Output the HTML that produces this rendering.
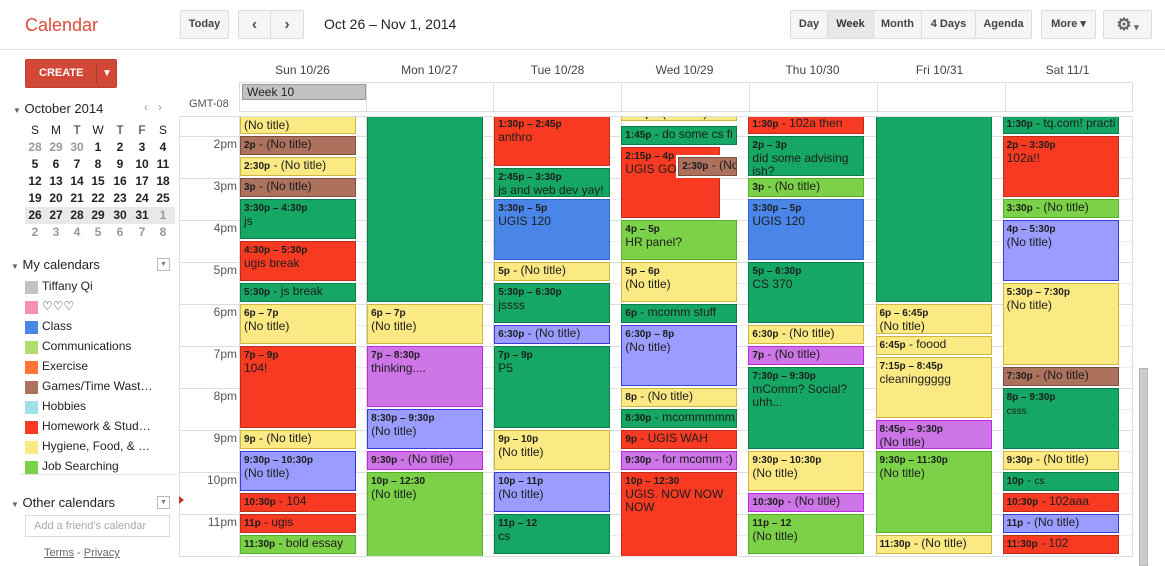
<!DOCTYPE html>
<html><head><meta charset="utf-8"><style>
*{box-sizing:border-box;margin:0;padding:0}
body{width:1165px;height:566px;overflow:hidden;background:#fff;font-family:"Liberation Sans",Arial,sans-serif;color:#222;position:relative}
.a{position:absolute}
.btn{position:absolute;top:10px;height:29px;background:#f5f5f5;border:1px solid #dcdcdc;font-size:11px;font-weight:bold;color:#444;text-align:center;line-height:27px;border-radius:2px}
.mc{position:absolute;font-size:12px;font-weight:bold;width:20px;text-align:center}
.cal{position:absolute;left:25px;font-size:12px;color:#222}
.cal i{position:absolute;left:0;top:2px;width:13px;height:13px}
.cal span{position:absolute;left:17px;top:0;white-space:nowrap}
.dh{position:absolute;top:63px;font-size:12px;color:#444;width:127px;text-align:center}
.tl{position:absolute;left:180px;width:57px;text-align:right;font-size:12px;color:#555}
#ev{position:absolute;left:180px;top:117px;width:952px;height:439px;overflow:hidden}
.e{position:absolute;left:calc(60px + var(--d)*127.1px);top:calc(19px + (var(--s) - 14)*42px);height:calc((var(--e) - var(--s))*42px - 2px);width:116px;border:1px solid;padding:1px 3px;font-size:12px;line-height:13px;color:#1d1d1d;overflow:hidden;white-space:nowrap}
.e b{font-size:10px;line-height:12px}
.y{background:#fbe983;border-color:#d0b73f}
.br{background:#ac725e;border-color:#7e4d3c}
.g{background:#16a765;border-color:#0d7d4a}
.r{background:#f83a22;border-color:#c02d1a}
.bl{background:#4986e7;border-color:#2f6ad0}
.l{background:#9a9cff;border-color:#3a3ad8}
.p{background:#cd74e6;border-color:#c028e0}
.lg{background:#7bd148;border-color:#58b02a}
.hl{position:absolute;left:0;width:952px;border-top:1px solid #ddd}
.hh{position:absolute;left:60px;width:892px;border-top:1px dotted #ddd}
.vl{position:absolute;top:0;height:439px;border-left:1px solid #ddd}
</style></head><body>
<div class="a" style="left:0;top:49px;width:1165px;border-top:1px solid #e5e5e5"></div>
<div class="a" style="left:25px;top:15px;font-size:18px;color:#dd4b39">Calendar</div>
<div class="btn" style="left:180px;width:49px">Today</div>
<div class="btn" style="left:238px;width:33px;font-size:16px;color:#555">&#8249;</div>
<div class="btn" style="left:270px;width:34px;font-size:16px;color:#555">&#8250;</div>
<div class="a" style="left:324px;top:16px;font-size:14px;color:#222">Oct 26 – Nov 1, 2014</div>
<div class="btn" style="left:790px;width:38px">Day</div>
<div class="btn" style="left:827px;width:47px;background:#e8e8e8;color:#333">Week</div>
<div class="btn" style="left:873px;width:49px">Month</div>
<div class="btn" style="left:921px;width:55px">4 Days</div>
<div class="btn" style="left:975px;width:57px">Agenda</div>
<div class="btn" style="left:1041px;width:55px">More ▾</div>
<div class="btn" style="left:1103px;width:49px;font-size:17px;color:#666">⚙<span style="font-size:9px"> ▾</span></div>

<div class="a" style="left:25px;top:59px;width:92px;height:29px;background:#d14836;border:1px solid #c13e2c;border-radius:2px;color:#fff;font-size:11px;font-weight:bold;line-height:27px"><span style="position:absolute;left:13px">CREATE</span><span style="position:absolute;left:70px;top:3px;height:21px;border-left:1px solid #b0392b"></span><span style="position:absolute;left:76px;font-size:10px">▼</span></div>

<div class="a" style="left:13px;top:101px;font-size:13px;color:#222"><span style="font-size:8px;color:#666">▼</span> October 2014</div>
<div class="a" style="left:144px;top:100px;font-size:12px;color:#999">‹ &nbsp;&nbsp;›</div>
<div class="a" style="left:25px;top:207px;width:150px;height:17px;background:#e8e8e8"></div>
<div class="mc" style="left:25px;top:123px;font-weight:normal">S</div><div class="mc" style="left:46px;top:123px;font-weight:normal">M</div><div class="mc" style="left:67px;top:123px;font-weight:normal">T</div><div class="mc" style="left:88px;top:123px;font-weight:normal">W</div><div class="mc" style="left:110px;top:123px;font-weight:normal">T</div><div class="mc" style="left:132px;top:123px;font-weight:normal">F</div><div class="mc" style="left:153px;top:123px;font-weight:normal">S</div>
<div class="mc" style="left:25px;top:140px;color:#999">28</div><div class="mc" style="left:46px;top:140px;color:#999">29</div><div class="mc" style="left:67px;top:140px;color:#999">30</div><div class="mc" style="left:88px;top:140px">1</div><div class="mc" style="left:110px;top:140px">2</div><div class="mc" style="left:132px;top:140px">3</div><div class="mc" style="left:153px;top:140px">4</div>
<div class="mc" style="left:25px;top:157px">5</div><div class="mc" style="left:46px;top:157px">6</div><div class="mc" style="left:67px;top:157px">7</div><div class="mc" style="left:88px;top:157px">8</div><div class="mc" style="left:110px;top:157px">9</div><div class="mc" style="left:132px;top:157px">10</div><div class="mc" style="left:153px;top:157px">11</div>
<div class="mc" style="left:25px;top:174px">12</div><div class="mc" style="left:46px;top:174px">13</div><div class="mc" style="left:67px;top:174px">14</div><div class="mc" style="left:88px;top:174px">15</div><div class="mc" style="left:110px;top:174px">16</div><div class="mc" style="left:132px;top:174px">17</div><div class="mc" style="left:153px;top:174px">18</div>
<div class="mc" style="left:25px;top:191px">19</div><div class="mc" style="left:46px;top:191px">20</div><div class="mc" style="left:67px;top:191px">21</div><div class="mc" style="left:88px;top:191px">22</div><div class="mc" style="left:110px;top:191px">23</div><div class="mc" style="left:132px;top:191px">24</div><div class="mc" style="left:153px;top:191px">25</div>
<div class="mc" style="left:25px;top:208px">26</div><div class="mc" style="left:46px;top:208px">27</div><div class="mc" style="left:67px;top:208px">28</div><div class="mc" style="left:88px;top:208px">29</div><div class="mc" style="left:110px;top:208px">30</div><div class="mc" style="left:132px;top:208px">31</div><div class="mc" style="left:153px;top:208px;color:#999">1</div>
<div class="mc" style="left:25px;top:225px;color:#999">2</div><div class="mc" style="left:46px;top:225px;color:#999">3</div><div class="mc" style="left:67px;top:225px;color:#999">4</div><div class="mc" style="left:88px;top:225px;color:#999">5</div><div class="mc" style="left:110px;top:225px;color:#999">6</div><div class="mc" style="left:132px;top:225px;color:#999">7</div><div class="mc" style="left:153px;top:225px;color:#999">8</div>

<div class="a" style="left:11px;top:257px;font-size:13px"><span style="font-size:8px;color:#666">▼</span> My calendars</div>
<div class="a" style="left:157px;top:258px;width:13px;height:13px;border:1px solid #bbb;font-size:7px;color:#777;text-align:center;line-height:11px">▼</div>
<div class="cal" style="top:279px"><i style="background:#c2c2c2"></i><span>Tiffany Qi</span></div>
<div class="cal" style="top:299px"><i style="background:#f691b2"></i><span>♡♡♡</span></div>
<div class="cal" style="top:319px"><i style="background:#4986e7"></i><span>Class</span></div>
<div class="cal" style="top:339px"><i style="background:#b3dc6c"></i><span>Communications</span></div>
<div class="cal" style="top:359px"><i style="background:#ff7537"></i><span>Exercise</span></div>
<div class="cal" style="top:379px"><i style="background:#ac725e"></i><span>Games/Time Wast…</span></div>
<div class="cal" style="top:399px"><i style="background:#9fe1e7"></i><span>Hobbies</span></div>
<div class="cal" style="top:419px"><i style="background:#f83a22"></i><span>Homework &amp; Stud…</span></div>
<div class="cal" style="top:439px"><i style="background:#fbe983"></i><span>Hygiene, Food, &amp; …</span></div>
<div class="cal" style="top:459px"><i style="background:#7bd148"></i><span>Job Searching</span></div>
<div class="a" style="left:20px;top:474px;width:155px;border-top:1px solid #e5e5e5"></div>
<div class="a" style="left:11px;top:495px;font-size:13px"><span style="font-size:8px;color:#666">▼</span> Other calendars</div>
<div class="a" style="left:157px;top:496px;width:13px;height:13px;border:1px solid #bbb;font-size:7px;color:#777;text-align:center;line-height:11px">▼</div>
<div class="a" style="left:25px;top:515px;width:145px;height:22px;border:1px solid #d9d9d9;font-size:11px;color:#aaa;padding:4px 8px;white-space:nowrap">Add a friend's calendar</div>
<div class="a" style="left:44px;top:547px;font-size:11px;color:#666"><u>Terms</u> - <u>Privacy</u></div>

<div class="dh" style="left:239px">Sun 10/26</div><div class="dh" style="left:366px">Mon 10/27</div><div class="dh" style="left:494px">Tue 10/28</div><div class="dh" style="left:621px">Wed 10/29</div><div class="dh" style="left:749px">Thu 10/30</div><div class="dh" style="left:876px">Fri 10/31</div><div class="dh" style="left:1004px">Sat 11/1</div>
<div class="a" style="left:239px;top:82px;width:894px;height:30px;border:1px solid #ddd"></div>
<div class="a" style="left:366px;top:82px;height:30px;border-left:1px solid #ddd"></div><div class="a" style="left:493px;top:82px;height:30px;border-left:1px solid #ddd"></div><div class="a" style="left:621px;top:82px;height:30px;border-left:1px solid #ddd"></div><div class="a" style="left:749px;top:82px;height:30px;border-left:1px solid #ddd"></div><div class="a" style="left:877px;top:82px;height:30px;border-left:1px solid #ddd"></div><div class="a" style="left:1005px;top:82px;height:30px;border-left:1px solid #ddd"></div>
<div class="a" style="left:242px;top:84px;width:124px;height:16px;background:#c2c2c2;border:1px solid #999;font-size:12px;padding-left:4px;line-height:14px">Week 10</div>
<div class="a" style="left:189px;top:98px;font-size:11px;color:#555">GMT-08</div>

<div class="a" style="left:179px;top:116px;width:954px;height:441px;border:1px solid #ddd"></div>
<div class="tl" style="top:137px">2pm</div><div class="tl" style="top:179px">3pm</div><div class="tl" style="top:221px">4pm</div><div class="tl" style="top:263px">5pm</div><div class="tl" style="top:305px">6pm</div><div class="tl" style="top:347px">7pm</div><div class="tl" style="top:389px">8pm</div><div class="tl" style="top:431px">9pm</div><div class="tl" style="top:473px">10pm</div><div class="tl" style="top:515px">11pm</div>
<div class="a" style="left:179px;top:496px;width:0;height:0;border-top:4px solid transparent;border-bottom:4px solid transparent;border-left:5px solid #c33"></div>

<div id="ev">
<div class="hl" style="top:19px"></div><div class="hl" style="top:61px"></div><div class="hl" style="top:103px"></div><div class="hl" style="top:145px"></div><div class="hl" style="top:187px"></div><div class="hl" style="top:229px"></div><div class="hl" style="top:271px"></div><div class="hl" style="top:313px"></div><div class="hl" style="top:355px"></div><div class="hl" style="top:397px"></div>
<div class="hh" style="top:40px"></div><div class="hh" style="top:82px"></div><div class="hh" style="top:124px"></div><div class="hh" style="top:166px"></div><div class="hh" style="top:208px"></div><div class="hh" style="top:250px"></div><div class="hh" style="top:292px"></div><div class="hh" style="top:334px"></div><div class="hh" style="top:376px"></div><div class="hh" style="top:418px"></div>
<div class="vl" style="left:59px"></div><div class="vl" style="left:186px"></div><div class="vl" style="left:313px"></div><div class="vl" style="left:441px"></div><div class="vl" style="left:568px"></div><div class="vl" style="left:696px"></div><div class="vl" style="left:823px"></div>

<div class="e y" style="--d:0;--s:13.5;--e:14;padding-top:3px">(No title)</div>
<div class="e br" style="--d:0;--s:14;--e:14.5"><b>2p</b> - (No title)</div>
<div class="e y" style="--d:0;--s:14.5;--e:15"><b>2:30p</b> - (No title)</div>
<div class="e br" style="--d:0;--s:15;--e:15.5"><b>3p</b> - (No title)</div>
<div class="e g" style="--d:0;--s:15.5;--e:16.5"><b>3:30p – 4:30p</b><br>js</div>
<div class="e r" style="--d:0;--s:16.5;--e:17.5"><b>4:30p – 5:30p</b><br>ugis break</div>
<div class="e g" style="--d:0;--s:17.5;--e:18"><b>5:30p</b> - js break</div>
<div class="e y" style="--d:0;--s:18;--e:19"><b>6p – 7p</b><br>(No title)</div>
<div class="e r" style="--d:0;--s:19;--e:21"><b>7p – 9p</b><br>104!</div>
<div class="e y" style="--d:0;--s:21;--e:21.5"><b>9p</b> - (No title)</div>
<div class="e l" style="--d:0;--s:21.5;--e:22.5"><b>9:30p – 10:30p</b><br>(No title)</div>
<div class="e r" style="--d:0;--s:22.5;--e:23"><b>10:30p</b> - 104</div>
<div class="e r" style="--d:0;--s:23;--e:23.5"><b>11p</b> - ugis</div>
<div class="e lg" style="--d:0;--s:23.5;--e:24"><b>11:30p</b> - bold essay</div>

<div class="e g" style="--d:1;--s:12;--e:18"></div>
<div class="e y" style="--d:1;--s:18;--e:19"><b>6p – 7p</b><br>(No title)</div>
<div class="e p" style="--d:1;--s:19;--e:20.5"><b>7p – 8:30p</b><br>thinking....</div>
<div class="e l" style="--d:1;--s:20.5;--e:21.5"><b>8:30p – 9:30p</b><br>(No title)</div>
<div class="e p" style="--d:1;--s:21.5;--e:22"><b>9:30p</b> - (No title)</div>
<div class="e lg" style="--d:1;--s:22;--e:24.5"><b>10p – 12:30</b><br>(No title)</div>

<div class="e r" style="--d:2;--s:13.5;--e:14.75"><b>1:30p – 2:45p</b><br>anthro</div>
<div class="e g" style="--d:2;--s:14.75;--e:15.5"><b>2:45p – 3:30p</b><br>js and web dev yay!</div>
<div class="e bl" style="--d:2;--s:15.5;--e:17"><b>3:30p – 5p</b><br>UGIS 120</div>
<div class="e y" style="--d:2;--s:17;--e:17.5"><b>5p</b> - (No title)</div>
<div class="e g" style="--d:2;--s:17.5;--e:18.5"><b>5:30p – 6:30p</b><br>jssss</div>
<div class="e l" style="--d:2;--s:18.5;--e:19"><b>6:30p</b> - (No title)</div>
<div class="e g" style="--d:2;--s:19;--e:21"><b>7p – 9p</b><br>P5</div>
<div class="e y" style="--d:2;--s:21;--e:22"><b>9p – 10p</b><br>(No title)</div>
<div class="e l" style="--d:2;--s:22;--e:23"><b>10p – 11p</b><br>(No title)</div>
<div class="e g" style="--d:2;--s:23;--e:24"><b>11p – 12</b><br>cs</div>

<div class="e y" style="--d:3;--s:13.1;--e:13.7;padding-top:8px"><b>1:15p</b> - (No title)</div>
<div class="e g" style="--d:3;--s:13.75;--e:14.25"><b>1:45p</b> - do some cs fi</div>
<div class="e r" style="--d:3;--s:14.25;--e:16;width:99px"><b>2:15p – 4p</b><br>UGIS GO</div>
<div class="e br" style="--d:3;--s:14.5;--e:15;margin-left:57px;width:59px;outline:2px solid #fff"><b>2:30p</b> - (No title)</div>
<div class="e lg" style="--d:3;--s:16;--e:17"><b>4p – 5p</b><br>HR panel?</div>
<div class="e y" style="--d:3;--s:17;--e:18"><b>5p – 6p</b><br>(No title)</div>
<div class="e g" style="--d:3;--s:18;--e:18.5"><b>6p</b> - mcomm stuff</div>
<div class="e l" style="--d:3;--s:18.5;--e:20"><b>6:30p – 8p</b><br>(No title)</div>
<div class="e y" style="--d:3;--s:20;--e:20.5"><b>8p</b> - (No title)</div>
<div class="e g" style="--d:3;--s:20.5;--e:21"><b>8:30p</b> - mcommmmm</div>
<div class="e r" style="--d:3;--s:21;--e:21.5"><b>9p</b> - UGIS WAH</div>
<div class="e p" style="--d:3;--s:21.5;--e:22"><b>9:30p</b> - for mcomm :)</div>
<div class="e r" style="--d:3;--s:22;--e:24.5;white-space:normal"><b>10p – 12:30</b><br>UGIS. NOW NOW NOW</div>

<div class="e r" style="--d:4;--s:13.5;--e:14"><b>1:30p</b> - 102a then</div>
<div class="e g" style="--d:4;--s:14;--e:15;white-space:normal"><b>2p – 3p</b><br>did some advising ish?</div>
<div class="e lg" style="--d:4;--s:15;--e:15.5"><b>3p</b> - (No title)</div>
<div class="e bl" style="--d:4;--s:15.5;--e:17"><b>3:30p – 5p</b><br>UGIS 120</div>
<div class="e g" style="--d:4;--s:17;--e:18.5"><b>5p – 6:30p</b><br>CS 370</div>
<div class="e y" style="--d:4;--s:18.5;--e:19"><b>6:30p</b> - (No title)</div>
<div class="e p" style="--d:4;--s:19;--e:19.5"><b>7p</b> - (No title)</div>
<div class="e g" style="--d:4;--s:19.5;--e:21.5;white-space:normal"><b>7:30p – 9:30p</b><br>mComm? Social? uhh...</div>
<div class="e y" style="--d:4;--s:21.5;--e:22.5"><b>9:30p – 10:30p</b><br>(No title)</div>
<div class="e p" style="--d:4;--s:22.5;--e:23"><b>10:30p</b> - (No title)</div>
<div class="e lg" style="--d:4;--s:23;--e:24"><b>11p – 12</b><br>(No title)</div>

<div class="e g" style="--d:5;--s:12;--e:18"></div>
<div class="e y" style="--d:5;--s:18;--e:18.75"><b>6p – 6:45p</b><br>(No title)</div>
<div class="e y" style="--d:5;--s:18.75;--e:19.25"><b>6:45p</b> - foood</div>
<div class="e y" style="--d:5;--s:19.25;--e:20.75"><b>7:15p – 8:45p</b><br>cleaninggggg</div>
<div class="e p" style="--d:5;--s:20.75;--e:21.5"><b>8:45p – 9:30p</b><br>(No title)</div>
<div class="e lg" style="--d:5;--s:21.5;--e:23.5"><b>9:30p – 11:30p</b><br>(No title)</div>
<div class="e y" style="--d:5;--s:23.5;--e:24"><b>11:30p</b> - (No title)</div>

<div class="e g" style="--d:6;--s:13.5;--e:14"><b>1:30p</b> - tq.com! practi</div>
<div class="e r" style="--d:6;--s:14;--e:15.5"><b>2p – 3:30p</b><br>102a!!</div>
<div class="e lg" style="--d:6;--s:15.5;--e:16"><b>3:30p</b> - (No title)</div>
<div class="e l" style="--d:6;--s:16;--e:17.5"><b>4p – 5:30p</b><br>(No title)</div>
<div class="e y" style="--d:6;--s:17.5;--e:19.5"><b>5:30p – 7:30p</b><br>(No title)</div>
<div class="e br" style="--d:6;--s:19.5;--e:20"><b>7:30p</b> - (No title)</div>
<div class="e g" style="--d:6;--s:20;--e:21.5"><b>8p – 9:30p</b><br><span style="font-size:10px">csss</span></div>
<div class="e y" style="--d:6;--s:21.5;--e:22"><b>9:30p</b> - (No title)</div>
<div class="e g" style="--d:6;--s:22;--e:22.5"><b>10p</b> - <span style="font-size:10px">cs</span></div>
<div class="e r" style="--d:6;--s:22.5;--e:23"><b>10:30p</b> - 102aaa</div>
<div class="e l" style="--d:6;--s:23;--e:23.5"><b>11p</b> - (No title)</div>
<div class="e r" style="--d:6;--s:23.5;--e:24"><b>11:30p</b> - 102</div>
</div>

<div class="a" style="left:1139px;top:368px;width:9px;height:198px;background:#ccc;border:1px solid #b5b5b5"></div>
</body></html>
